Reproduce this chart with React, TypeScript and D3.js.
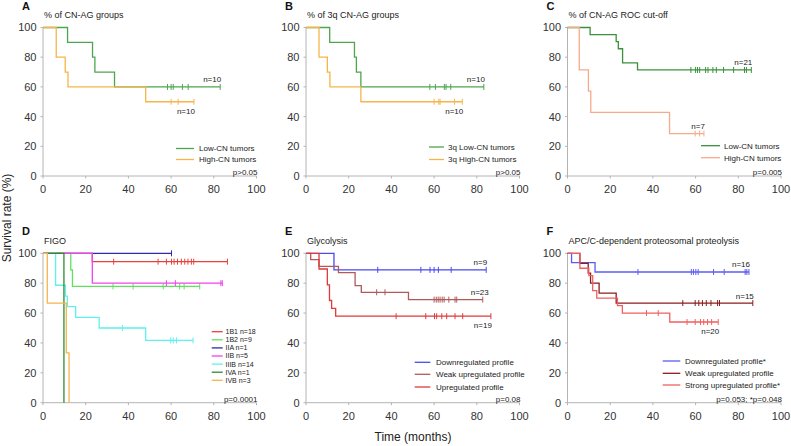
import React from 'react';
import * as d3 from 'd3';

type Ev = [number, number];

// ---------- shared tick values ----------
const xTickValues = [0, 20, 40, 60, 80, 100];
const yTickValues = [0, 20, 40, 60, 80, 100];

// ---------- Panel A: % of CN-AG groups ----------
const aLowEvents: Ev[] = [[11.5, 90], [23.2, 80], [24.3, 70], [33.5, 60]];
const aLowCensored = [58.3, 60, 61, 65.3, 68, 83];
const aHighEvents: Ev[] = [[6.2, 80], [10.4, 70], [11.7, 60], [48.1, 50]];
const aHighCensored = [60, 63.3, 70.7];

// ---------- Panel B: % of 3q CN-AG groups ----------
const bLowEvents: Ev[] = [[11.1, 90], [22.7, 80], [23.6, 70], [25.7, 60]];
const bLowCensored = [58, 60.6, 64.8, 65.6, 67.8, 83.3];
const bHighEvents: Ev[] = [[6.1, 80], [10, 70], [11.2, 60], [25.7, 50]];
const bHighCensored = [60, 62.2, 62.8, 69.6, 73.2];

// ---------- Panel C: % of CN-AG ROC cut-off ----------
const cLowEvents: Ev[] = [[10.6, 95.2], [22.8, 90.5], [23.8, 85.7], [25.8, 76.2], [32.8, 71.4]];
const cLowCensored = [57.8, 60, 60.9, 61.9, 64.7, 65.8, 68.1, 69.7, 73.1, 77.8, 82.9, 83.8, 86.1];
const cHighEvents: Ev[] = [[5.5, 71.4], [9.8, 57.1], [10.9, 42.9], [47.8, 28.6]];
const cHighCensored = [59.8, 61.9, 63.9];

// ---------- Panel D: FIGO ----------
const dIB1Events: Ev[] = [[23.1, 94.4]];
const dIB1Censored = [33.1, 53.9, 57.8, 60.2, 61.4, 63, 64.8, 66.4, 67.9, 69.5, 70.6, 86.4];
const dIB2Events: Ev[] = [[13, 88.9], [13.8, 77.8]];
const dIB2Censored = [32.8, 42.2, 56.3, 64, 66.1, 73.4];
const dIIAEvents: Ev[] = [];
const dIIACensored = [60.2];
const dIIBEvents: Ev[] = [[23.1, 80]];
const dIIBCensored = [57.8, 62, 83.3, 84];
const dIIIBEvents: Ev[] = [[5.9, 78.6], [10.5, 71.4], [11.4, 64.3], [15.3, 57.1], [26.3, 50], [48.1, 41.7]];
const dIIIBCensored = [37.2, 59.8, 61, 62.5, 70.3];
const dIVAEvents: Ev[] = [[9.8, 0]];
const dIVACensored: number[] = [];
const dIVBEvents: Ev[] = [[2, 66.7], [10.9, 33.3], [12.2, 0]];
const dIVBCensored: number[] = [];

// ---------- Panel E: Glycolysis ----------
const eDownEvents: Ev[] = [[13.1, 88.9]];
const eDownCensored = [33.6, 53.8, 58.1, 60, 62, 68, 84.4];
const eWeakEvents: Ev[] = [[2.2, 95.7], [6.1, 91.3], [15.2, 87], [23, 78.3], [25.9, 73.9], [48, 69]];
const eWeakCensored = [33.1, 37, 60, 61, 61.9, 62.8, 63.8, 64.7, 66.9, 69.8, 70.6, 82.8];
const eUpEvents: Ev[] = [[6.1, 89.5], [10, 78.9], [11, 68.4], [12, 63.2], [13.9, 57.9]];
const eUpCensored = [42.2, 56.1, 60.2, 61.2, 63.6, 65.9, 69.8, 73.4, 86.6];

// ---------- Panel F: APC/C-dependent proteosomal proteolysis ----------
const fDownEvents: Ev[] = [[1.9, 93.75], [12.9, 87.5]];
const fDownCensored = [33, 58, 59, 60.1, 61.2, 68.4, 73.4, 83.2, 84, 85];
const fWeakEvents: Ev[] = [[5.8, 93.3], [9.7, 86.7], [10.8, 80], [14.8, 73.3], [22.8, 66.7]];
const fWeakCensored = [54, 59.8, 61.5, 63.2, 65, 67.2, 70.3, 71.2, 86.8];
const fStrongEvents: Ev[] = [[5.8, 90], [10, 85], [11.8, 75], [13.7, 70], [23.4, 65], [25.7, 60], [47.9, 54]];
const fStrongCensored = [37, 42.5, 56, 59.8, 62.3, 63.8, 65.6, 67.5, 70.6];

// ---------- labels ----------
const panelLetters = ['A', 'B', 'C', 'D', 'E', 'F'];
const panelTitles = [
  '% of CN-AG groups',
  '% of 3q CN-AG groups',
  '% of CN-AG ROC cut-off',
  'FIGO',
  'Glycolysis',
  'APC/C-dependent proteosomal proteolysis',
];
const pValues = ['p>0.05', 'p>0.05', 'p=0.005', 'p=0.0001', 'p=0.08', 'p=0.053; *p=0.048'];

interface Curve {
  label: string;
  events: Ev[];
  censored: number[];
  color: string;
  n?: string;
  nPos?: 'above' | 'below';
  nDx?: number;
}

interface Panel {
  col: number;
  row: number;
  curves: Curve[];
  legend: { x1: number; x2: number; tx: number; rows: number[]; fs: number };
}

const GREEN = '#4da64d';
const ORANGE = '#f5b54a';

const panels: Panel[] = [
  {
    col: 0, row: 0,
    curves: [
      { label: 'Low-CN tumors', events: aLowEvents, censored: aLowCensored, color: GREEN, n: 'n=10', nPos: 'above' },
      { label: 'High-CN tumors', events: aHighEvents, censored: aHighCensored, color: ORANGE, n: 'n=10', nPos: 'below' },
    ],
    legend: { x1: 133, x2: 151, tx: 156, rows: [-27.5, -16.5], fs: 8 },
  },
  {
    col: 1, row: 0,
    curves: [
      { label: '3q Low-CN tumors', events: bLowEvents, censored: bLowCensored, color: GREEN, n: 'n=10', nPos: 'above' },
      { label: '3q High-CN tumors', events: bHighEvents, censored: bHighCensored, color: ORANGE, n: 'n=10', nPos: 'below' },
    ],
    legend: { x1: 123, x2: 138, tx: 142, rows: [-29, -16.5], fs: 8 },
  },
  {
    col: 2, row: 0,
    curves: [
      { label: 'Low-CN tumors', events: cLowEvents, censored: cLowCensored, color: '#3a913a', n: 'n=21', nPos: 'above' },
      { label: 'High-CN tumors', events: cHighEvents, censored: cHighCensored, color: '#f6aa8c', n: 'n=7', nPos: 'above' },
    ],
    legend: { x1: 133.5, x2: 152.5, tx: 156.5, rows: [-30.3, -18.3], fs: 8 },
  },
  {
    col: 0, row: 1,
    curves: [
      { label: '1B1 n=18', events: dIB1Events, censored: dIB1Censored, color: '#e8413c' },
      { label: '1B2 n=9', events: dIB2Events, censored: dIB2Censored, color: '#5fe05f' },
      { label: 'IIA n=1', events: dIIAEvents, censored: dIIACensored, color: '#2b2baa' },
      { label: 'IIB n=5', events: dIIBEvents, censored: dIIBCensored, color: '#ee44ee' },
      { label: 'IIIB n=14', events: dIIIBEvents, censored: dIIIBCensored, color: '#5ff0f0' },
      { label: 'IVA n=1', events: dIVAEvents, censored: dIVACensored, color: '#2e8b2e' },
      { label: 'IVB n=3', events: dIVBEvents, censored: dIVBCensored, color: ORANGE },
    ],
    legend: { x1: 168.7, x2: 179.7, tx: 182.5, rows: [-71, -62.9, -54.8, -46.7, -38.6, -30.5, -22.4], fs: 7 },
  },
  {
    col: 1, row: 1,
    curves: [
      { label: 'Downregulated profile', events: eDownEvents, censored: eDownCensored, color: '#4a4aee', n: 'n=9', nPos: 'above' },
      { label: 'Weak upregulated profile', events: eWeakEvents, censored: eWeakCensored, color: '#b05a5a', n: 'n=23', nPos: 'above', nDx: 5 },
      { label: 'Upregulated profile', events: eUpEvents, censored: eUpCensored, color: '#e03a3a', n: 'n=19', nPos: 'below' },
    ],
    legend: { x1: 108.7, x2: 124.3, tx: 130, rows: [-40.4, -28.4, -15.7], fs: 8 },
  },
  {
    col: 2, row: 1,
    curves: [
      { label: 'Downregulated profile*', events: fDownEvents, censored: fDownCensored, color: '#5c5cf0', n: 'n=16', nPos: 'above' },
      { label: 'Weak upregulated profile', events: fWeakEvents, censored: fWeakCensored, color: '#8b1c1c', n: 'n=15', nPos: 'above' },
      { label: 'Strong upregulated profile*', events: fStrongEvents, censored: fStrongCensored, color: '#f06060', n: 'n=20', nPos: 'below' },
    ],
    legend: { x1: 95.2, x2: 112.8, tx: 117.5, rows: [-41.7, -29.4, -17.7], fs: 8 },
  },
];

const colX = [43, 306, 567.5];
const plotW = 213.5;
const rowTop = [27.5, 253.3];
const rowBottom = [176, 402.7];
const FONT = '"Liberation Sans", Arial, Helvetica, sans-serif';

function survivalAt(events: Ev[], t: number): number {
  let s = 100;
  for (const [et, v] of events) if (et <= t) s = v;
  return s;
}

function curveEnd(c: Curve): number {
  const lastEvent = c.events.length ? c.events[c.events.length - 1][0] : 0;
  const lastCens = c.censored.length ? Math.max(...c.censored) : 0;
  return Math.max(lastEvent, lastCens);
}

function PanelView({ p, idx }: { p: Panel; idx: number }) {
  const x0 = colX[p.col];
  const top = rowTop[p.row];
  const bottom = rowBottom[p.row];
  const x = d3.scaleLinear().domain([0, 100]).range([x0, x0 + plotW]);
  const y = d3.scaleLinear().domain([0, 100]).range([bottom, top]);
  const line = d3
    .line<[number, number]>()
    .x((d) => x(d[0]))
    .y((d) => y(d[1]))
    .curve(d3.curveStepAfter);
  const axisColor = '#b4b4b4';
  return (
    <g>
      <line x1={x0} x2={x0 + plotW} y1={bottom} y2={bottom} stroke={axisColor} strokeWidth={1} />
      <line x1={x0} x2={x0} y1={top} y2={bottom} stroke={axisColor} strokeWidth={1} />
      {xTickValues.map((t) => (
        <g key={'x' + t}>
          <line x1={x(t)} x2={x(t)} y1={bottom} y2={bottom + 2.5} stroke={axisColor} />
          <text x={x(t)} y={bottom + 17} textAnchor="middle" fontSize={11} fill="#333" fontFamily={FONT}>
            {t}
          </text>
        </g>
      ))}
      {yTickValues.map((t) => (
        <g key={'y' + t}>
          <line x1={x0 - 2.5} x2={x0} y1={y(t)} y2={y(t)} stroke={axisColor} />
          <text x={x0 - 6.5} y={y(t)} dy="0.36em" textAnchor="end" fontSize={11} fill="#333" fontFamily={FONT}>
            {t}
          </text>
        </g>
      ))}
      {p.curves.map((c, i) => {
        const end = curveEnd(c);
        const last = c.events.length ? c.events[c.events.length - 1][1] : 100;
        const pts: [number, number][] = [[0, 100], ...c.events, [end, last]];
        return (
          <g key={'c' + i}>
            <path d={line(pts) || ''} fill="none" stroke={c.color} strokeWidth={1.3} />
            {c.censored.map((t, j) => {
              const v = survivalAt(c.events, t);
              return (
                <line key={j} x1={x(t)} x2={x(t)} y1={y(v) - 3} y2={y(v) + 3} stroke={c.color} strokeWidth={1} />
              );
            })}
            {c.n && (
              <text
                x={x(end) + 1 + (c.nDx || 0)}
                y={c.nPos === 'above' ? y(last) - 4.5 : y(last) + 12}
                textAnchor="end"
                fontSize={8}
                fill="#222"
                fontFamily={FONT}
              >
                {c.n}
              </text>
            )}
          </g>
        );
      })}
      {p.curves.map((c, i) => (
        <g key={'l' + i}>
          <line
            x1={x0 + p.legend.x1}
            x2={x0 + p.legend.x2}
            y1={bottom + p.legend.rows[i]}
            y2={bottom + p.legend.rows[i]}
            stroke={c.color}
            strokeWidth={1.3}
          />
          <text
            x={x0 + p.legend.tx}
            y={bottom + p.legend.rows[i]}
            dy="0.35em"
            fontSize={p.legend.fs}
            fill="#222"
            fontFamily={FONT}
          >
            {c.label}
          </text>
        </g>
      ))}
      <text x={x0 + plotW + 1} y={bottom - 4} dy="0.35em" textAnchor="end" fontSize={8} fill="#222" fontFamily={FONT}>
        {pValues[idx]}
      </text>
      <text x={x0 - 21} y={top - 18} fontSize={11} fontWeight="bold" fill="#111" fontFamily={FONT}>
        {panelLetters[idx]}
      </text>
      <text x={x0 + 1} y={top - 9.5} fontSize={9} fill="#222" fontFamily={FONT}>
        {panelTitles[idx]}
      </text>
    </g>
  );
}

export default function App() {
  return (
    <svg
      width={791}
      height={446}
      viewBox="0 0 791 446"
      style={{ position: 'absolute', left: 0, top: 0, background: '#fff' }}
    >
      <rect x={0} y={0} width={791} height={446} fill="#fff" />
      {panels.map((p, i) => (
        <PanelView key={i} p={p} idx={i} />
      ))}
      <text
        transform="translate(11,218) rotate(-90)"
        textAnchor="middle"
        fontSize={12}
        fill="#222"
        fontFamily={FONT}
      >
        Survival rate (%)
      </text>
      <text x={413} y={441} textAnchor="middle" fontSize={12} fill="#222" fontFamily={FONT}>
        Time (months)
      </text>
    </svg>
  );
}
